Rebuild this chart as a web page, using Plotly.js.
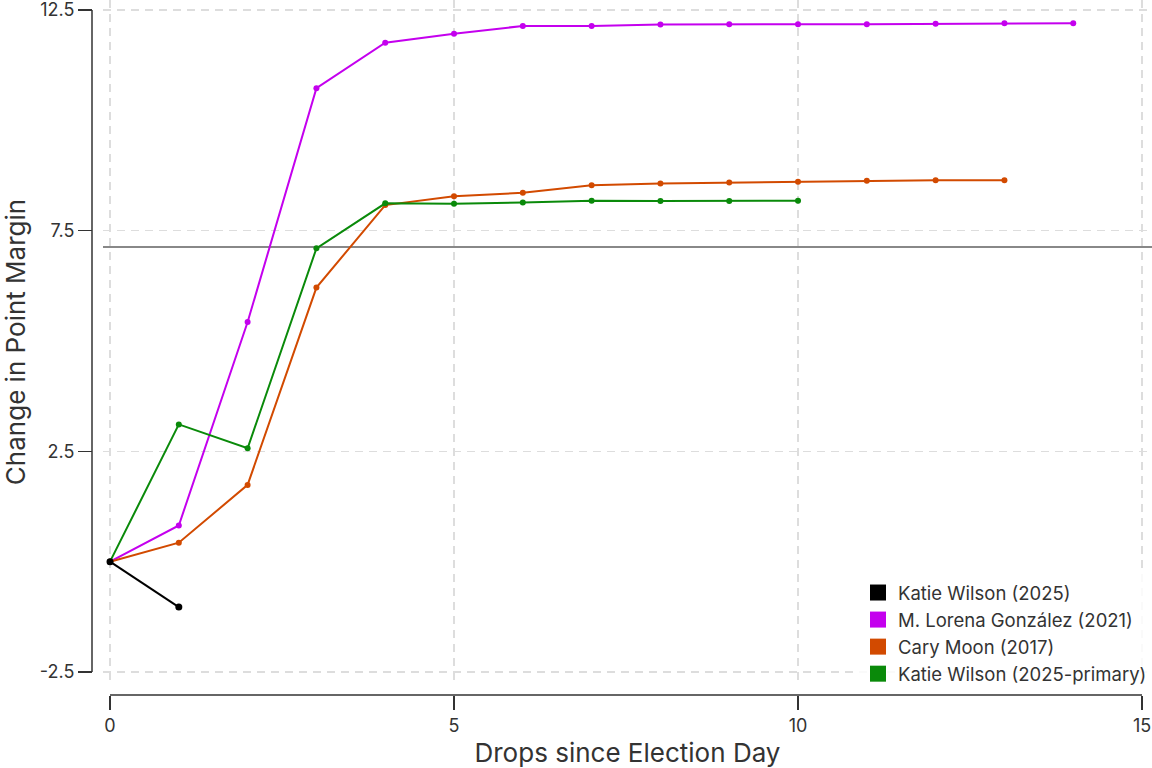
<!DOCTYPE html>
<html>
<head>
<meta charset="utf-8">
<script src="https://cdn.plot.ly/plotly-3.0.1.min.js"></script>
<style>
  html, body { margin: 0; padding: 0; background: #fff; }
  #chart { width: 1152px; height: 768px; }
</style>
</head>
<body>
<div id="chart"></div>
<script>
// ---- data ----
const seriesNames = [
  "Katie Wilson (2025)",
  "M. Lorena González (2021)",
  "Cary Moon (2017)",
  "Katie Wilson (2025-primary)"
];
const seriesColors = ["#000000", "#c400ee", "#d24a00", "#0a8a0a"];

const wilson2025X = [0, 1];
const wilson2025Y = [0, -1.03];

const gonzalez2021X = [0, 1, 2, 3, 4, 5, 6, 7, 8, 9, 10, 11, 12, 13, 14];
const gonzalez2021Y = [0, 0.82, 5.43, 10.73, 11.76, 11.96, 12.14, 12.14, 12.17, 12.18, 12.18, 12.18, 12.19, 12.20, 12.20];

const moon2017X = [0, 1, 2, 3, 4, 5, 6, 7, 8, 9, 10, 11, 12, 13];
const moon2017Y = [0, 0.43, 1.74, 6.21, 8.08, 8.28, 8.36, 8.53, 8.57, 8.59, 8.61, 8.63, 8.64, 8.64];

const wilsonPrimaryX = [0, 1, 2, 3, 4, 5, 6, 7, 8, 9, 10];
const wilsonPrimaryY = [0, 3.11, 2.57, 7.10, 8.12, 8.11, 8.14, 8.18, 8.17, 8.17, 8.18];

const referenceLevel = 7.13;

const xTicks = [0, 5, 10, 15];
const yTicks = [-2.5, 2.5, 7.5, 12.5];
const yTickLabels = ["-2.5", "2.5", "7.5", "12.5"];

// ---- layout geometry ----
const FONT = "Inter, 'Noto Sans', sans-serif";
const INK = "#333333";
const xDomain = [103 / 1152, 1];
const yDomain = [1 - 684 / 768, 1];
const yAxisPos = 92 / 1152;
const xAxisPos = 1 - 695 / 768;

function lineTrace(x, y, i) {
  return {
    type: "scatter", mode: "lines+markers",
    x: x, y: y, name: seriesNames[i],
    line: { color: seriesColors[i], width: 2 },
    marker: { color: seriesColors[i], size: i === 0 ? 7 : 6 },
    cliponaxis: false, showlegend: false, hoverinfo: "x+y+name"
  };
}

const traces = [
  lineTrace(gonzalez2021X, gonzalez2021Y, 1),
  lineTrace(moon2017X, moon2017Y, 2),
  lineTrace(wilsonPrimaryX, wilsonPrimaryY, 3),
  lineTrace(wilson2025X, wilson2025Y, 0)
];

// legend swatches (no data, legend only)
seriesNames.forEach((name, i) => {
  traces.push({
    type: "scatter", mode: "markers", x: [null], y: [null], name: name,
    marker: { symbol: "square", size: 18, color: seriesColors[i] },
    legendgroup: "g" + i, showlegend: true, hoverinfo: "skip"
  });
});

const tickFont = { size: 18, color: INK, family: FONT };
const titleFont = { size: 26, color: INK, family: FONT };

const layout = {
  width: 1152, height: 768,
  margin: { l: 0, r: 0, t: 0, b: 0, autoexpand: false },
  paper_bgcolor: "#ffffff", plot_bgcolor: "#ffffff",
  font: { family: FONT, color: INK, size: 16 },
  xaxis: {
    domain: xDomain, range: [-0.102, 15.145],
    anchor: "free", position: xAxisPos,
    tickmode: "array", tickvals: xTicks,
    ticks: "outside", ticklen: 14, tickwidth: 1.5, tickcolor: INK,
    tickfont: tickFont, ticklabeloverflow: "allow",
    showline: false, zeroline: false,
    showgrid: true, gridcolor: "#dddddd", gridwidth: 1.5, griddash: "8px,6px",
    title: { text: "Drops since Election Day", font: titleFont, standoff: 9 },
    automargin: false, fixedrange: true
  },
  yaxis: {
    domain: yDomain, range: [-2.772, 12.727],
    anchor: "free", position: yAxisPos,
    tickmode: "array", tickvals: yTicks, ticktext: yTickLabels,
    ticks: "outside", ticklen: 14, tickwidth: 1.5, tickcolor: INK,
    tickfont: tickFont, ticklabeloverflow: "allow", ticklabelstandoff: 0,
    showline: false, zeroline: false,
    showgrid: true, gridcolor: "#dddddd", gridwidth: 1.5, griddash: "8px,6px",
    title: { text: "Change in Point Margin", font: titleFont, standoff: 5 },
    automargin: false, fixedrange: true
  },
  shapes: [
    { type: "line", xref: "x", yref: "paper", x0: 0, x1: 15, y0: xAxisPos, y1: xAxisPos,
      line: { color: INK, width: 1.5 }, layer: "above" },
    { type: "line", xref: "paper", yref: "y", x0: yAxisPos, x1: yAxisPos, y0: -2.5, y1: 12.5,
      line: { color: INK, width: 1.5 }, layer: "above" },
    { type: "line", xref: "paper", yref: "y", x0: xDomain[0], x1: 1, y0: referenceLevel, y1: referenceLevel,
      line: { color: "#888888", width: 2 }, layer: "between" }
  ],
  legend: {
    x: 1, xanchor: "right", y: 1 - 574 / 768, yanchor: "top",
    bgcolor: "rgba(255,255,255,0.85)", borderwidth: 0,
    font: { size: 18.5, color: INK, family: FONT },
    itemsizing: "trace", tracegroupgap: 3, traceorder: "normal"
  },
  showlegend: true
};

Plotly.newPlot("chart", traces, layout, { displayModeBar: false, staticPlot: true });
</script>
</body>
</html>
